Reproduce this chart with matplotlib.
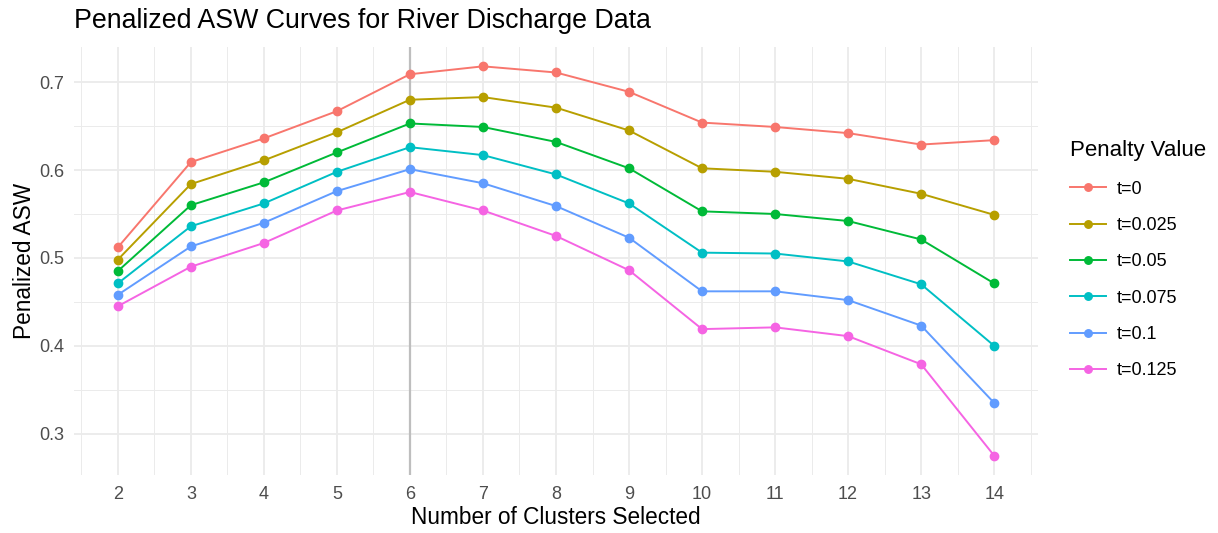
import numpy as np
import matplotlib.pyplot as plt
from matplotlib.ticker import MultipleLocator

plt.rcParams['font.family'] = ['Liberation Sans', 'DejaVu Sans']

clusters = list(range(2, 15))
labels = ['t=0', 't=0.025', 't=0.05', 't=0.075', 't=0.1', 't=0.125']
colors = ['#F8766D', '#B79F00', '#00BA38', '#00BFC4', '#619CFF', '#F564E3']

asw_t0 = [0.512, 0.609, 0.636, 0.667, 0.709, 0.718, 0.711, 0.689, 0.654, 0.649, 0.642, 0.629, 0.634]
asw_t025 = [0.498, 0.584, 0.611, 0.643, 0.680, 0.683, 0.671, 0.645, 0.602, 0.598, 0.590, 0.573, 0.549]
asw_t05 = [0.485, 0.560, 0.586, 0.620, 0.653, 0.649, 0.632, 0.602, 0.553, 0.550, 0.542, 0.521, 0.471]
asw_t075 = [0.471, 0.536, 0.562, 0.598, 0.626, 0.617, 0.595, 0.562, 0.506, 0.505, 0.496, 0.470, 0.400]
asw_t1 = [0.458, 0.513, 0.540, 0.576, 0.601, 0.585, 0.559, 0.523, 0.462, 0.462, 0.452, 0.423, 0.335]
asw_t125 = [0.445, 0.490, 0.517, 0.554, 0.575, 0.554, 0.525, 0.486, 0.419, 0.421, 0.411, 0.379, 0.275]
series = [asw_t0, asw_t025, asw_t05, asw_t075, asw_t1, asw_t125]

fig = plt.figure(figsize=(12.18, 5.33), dpi=100)
ax = fig.add_axes([74/1218, 1 - 475/533, (1038 - 74)/1218, (475 - 47)/533])

ax.axvline(6, color='#bebebe', lw=1.6, zorder=1)
for vals, lab, col in zip(series, labels, colors):
    ax.plot(clusters, vals, color=col, lw=1.4, marker='o', markersize=6,
            label=lab, zorder=3)

ax.set_xlim(1.4, 14.6)
ax.set_ylim(0.253, 0.740)
ax.xaxis.set_major_locator(MultipleLocator(1))
ax.xaxis.set_minor_locator(MultipleLocator(0.5))
ax.yaxis.set_major_locator(MultipleLocator(0.1))
ax.yaxis.set_minor_locator(MultipleLocator(0.05))
ax.grid(which='major', color='#ebebeb', lw=1.3, zorder=0)
ax.grid(which='minor', color='#ebebeb', lw=0.7, zorder=0)
ax.set_axisbelow(True)
for s in ax.spines.values():
    s.set_visible(False)
ax.tick_params(which='both', length=0, labelsize=13, colors='#4d4d4d')
ax.tick_params(axis='x', pad=8)
ax.tick_params(axis='y', pad=7)
ax.set_xlabel('Number of Clusters Selected', fontsize=16.3, color='black', labelpad=2)
ax.set_ylabel('Penalized ASW', fontsize=16.3, color='black', labelpad=2)
fig.text(74/1218, 1 - 21/533, 'Penalized ASW Curves for River Discharge Data',
         fontsize=19.3, ha='left', va='center')

leg = fig.legend(*ax.get_legend_handles_labels(), title='Penalty Value',
                 loc='upper left', bbox_to_anchor=(1054/1218, 1 - 124/533),
                 frameon=False, fontsize=13, title_fontsize=16, handlelength=2.0,
                 labelspacing=1.07, handletextpad=0.6, markerscale=0.9)
leg._legend_box.align = 'left'

fig.savefig('out.png', dpi=100)
